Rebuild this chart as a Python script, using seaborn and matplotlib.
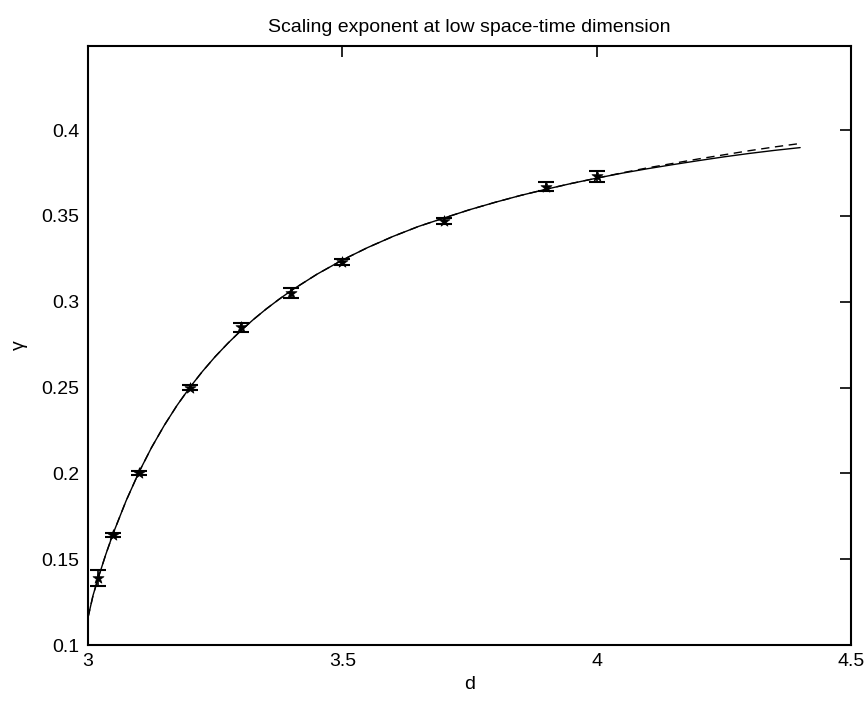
import matplotlib
matplotlib.use("Agg")
import matplotlib.pyplot as plt
import seaborn as sns
import pandas as pd

# measured data points with error bars
d_pts = [3.02, 3.05, 3.1, 3.2, 3.3, 3.4, 3.5, 3.7, 3.9, 4.0]
gamma_pts = [0.139, 0.164, 0.200, 0.250, 0.285, 0.305, 0.323, 0.347, 0.367, 0.373]
gamma_err = [0.0045, 0.0012, 0.0012, 0.0012, 0.0025, 0.003, 0.0018, 0.0015, 0.0026, 0.003]

# fitted curves
d_curve = [3.0, 3.01, 3.02, 3.035, 3.05, 3.075, 3.1, 3.125, 3.15, 3.175, 3.2, 3.225,
           3.25, 3.275, 3.3, 3.325, 3.35, 3.375, 3.4, 3.45, 3.5, 3.55, 3.6, 3.65,
           3.7, 3.75, 3.8, 3.85, 3.9, 3.95, 4.0, 4.05, 4.1, 4.15, 4.2, 4.25, 4.3,
           4.35, 4.4]
gamma_solid = [0.116, 0.129, 0.139, 0.1528, 0.1654, 0.1841, 0.2006, 0.2151, 0.228,
               0.2396, 0.250, 0.2594, 0.268, 0.2758, 0.283, 0.2896, 0.2957, 0.3013,
               0.3066, 0.316, 0.3243, 0.3316, 0.3381, 0.3439, 0.3488, 0.3536, 0.3579,
               0.3619, 0.3655, 0.3689, 0.372, 0.3749, 0.3775, 0.3799, 0.3822, 0.3844,
               0.3864, 0.3882, 0.3898]
gamma_dashed = [0.116, 0.129, 0.139, 0.1528, 0.1654, 0.1841, 0.2006, 0.2151, 0.228,
                0.2396, 0.250, 0.2594, 0.268, 0.2758, 0.283, 0.2896, 0.2957, 0.3013,
                0.3066, 0.316, 0.3243, 0.3316, 0.3381, 0.3439, 0.3488, 0.3536, 0.3579,
                0.3619, 0.3655, 0.3689, 0.372, 0.3751, 0.378, 0.3806, 0.3832, 0.3856,
                0.388, 0.3902, 0.3922]

x_ticks = [3, 3.5, 4, 4.5]
x_ticklabels = ["3", "3.5", "4", "4.5"]
y_ticks = [0.1, 0.15, 0.2, 0.25, 0.3, 0.35, 0.4]
y_ticklabels = ["0.1", "0.15", "0.2", "0.25", "0.3", "0.35", "0.4"]

sns.set_theme(style="white")
plt.rcParams["font.family"] = ["Liberation Sans", "DejaVu Sans"]

fig = plt.figure(figsize=(8.68, 7.07), dpi=100)
ax = fig.add_axes([88 / 868, 62 / 707, (851 - 88) / 868, (645 - 46) / 707])

curve_df = pd.DataFrame({"d": d_curve, "solid": gamma_solid, "dashed": gamma_dashed})
pts_df = pd.DataFrame({"d": d_pts, "gamma": gamma_pts, "err": gamma_err})

sns.lineplot(data=curve_df, x="d", y="dashed", ax=ax, color="black", lw=1.0,
             linestyle=(0, (6, 4)))
sns.lineplot(data=curve_df, x="d", y="solid", ax=ax, color="black", lw=1.0)
ax.errorbar(pts_df["d"], pts_df["gamma"], yerr=pts_df["err"], fmt="none",
            ecolor="black", elinewidth=1.2, capsize=6, capthick=1.5)
sns.scatterplot(data=pts_df, x="d", y="gamma", ax=ax, marker="*", s=70,
                color="black", edgecolor="black", linewidth=0.5, zorder=5)

ax.set_xlim(3, 4.5)
ax.set_ylim(0.1, 0.449)
ax.set_xticks(x_ticks)
ax.set_xticklabels(x_ticklabels)
ax.set_yticks(y_ticks)
ax.set_yticklabels(y_ticklabels)
ax.tick_params(direction="in", length=8, width=1.2, top=True, right=True,
               labelsize=14, colors="black", pad=6)
for s in ax.spines.values():
    s.set_color("black")
    s.set_linewidth(1.5)

ax.set_xlabel("d", fontsize=14, color="black", labelpad=4)
ax.set_ylabel("γ", fontsize=14, color="black", labelpad=10)
ax.set_title("Scaling exponent at low space-time dimension", fontsize=14,
             color="black", pad=10)

fig.savefig("out.png", dpi=100, facecolor="white")
